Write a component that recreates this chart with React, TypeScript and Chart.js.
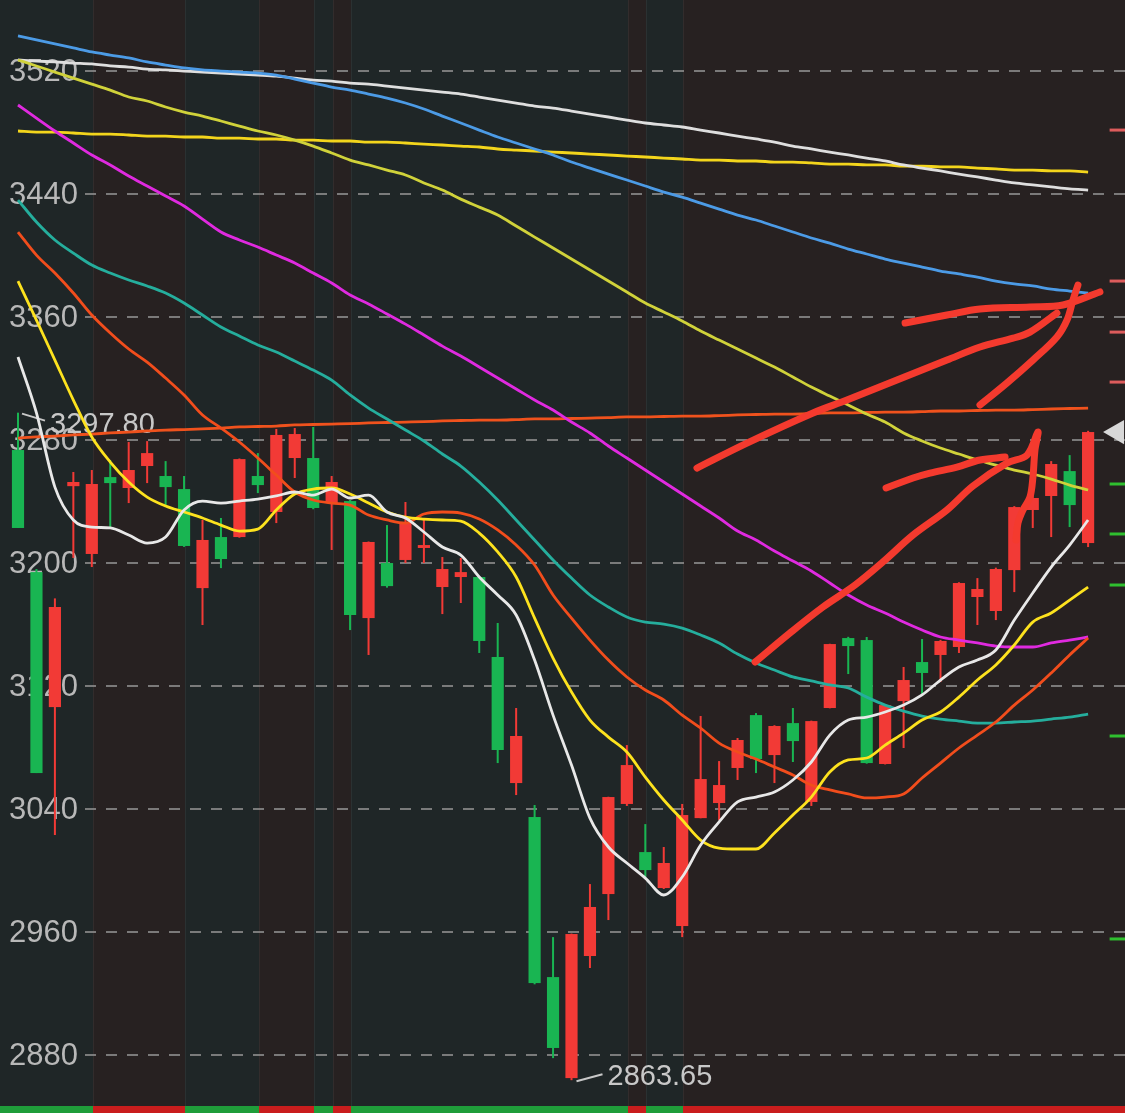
import React, { useEffect, useRef } from 'react';
import { Chart, registerables } from 'chart.js';

Chart.register(...registerables);

// ---------- candle data (one entry per trading day) ----------
const opens = [3273.5, 3194.1, 3106.3, 3250.0, 3205.9, 3255.9, 3248.8, 3263.1, 3256.6, 3248.1,
  3183.7, 3216.9, 3216.9, 3256.6, 3233.2, 3268.3, 3268.3, 3239.0, 3240.3, 3164.2,
  3200.0, 3202.0, 3209.8, 3184.4, 3190.9, 3190.9, 3138.9, 3056.9, 3034.8, 2930.7,
  2865.0, 2944.4, 2984.7, 3043.3, 3012.0, 2988.6, 2963.9, 3034.1, 3043.9, 3066.7,
  3101.1, 3075.1, 3095.9, 3044.6, 3105.7, 3151.2, 3149.9, 3069.3, 3110.2, 3135.6,
  3140.2, 3145.4, 3177.9, 3168.8, 3195.4, 3234.5, 3243.6, 3259.8, 3213.0];
const highs = [3297.8, 3196.1, 3177.0, 3259.2, 3260.5, 3267.0, 3278.7, 3279.3, 3266.3, 3256.6,
  3228.0, 3229.3, 3268.0, 3271.5, 3287.2, 3287.8, 3288.5, 3256.6, 3241.0, 3214.0,
  3224.7, 3239.7, 3229.3, 3203.9, 3203.3, 3191.5, 3161.0, 3105.7, 3042.6, 2956.7,
  2959.0, 2991.2, 3048.0, 3081.6, 3030.2, 3015.3, 3043.3, 3100.5, 3071.2, 3086.2,
  3102.4, 3094.5, 3105.7, 3097.5, 3147.5, 3152.0, 3151.9, 3108.0, 3132.4, 3150.6,
  3150.0, 3187.5, 3190.2, 3197.0, 3237.0, 3250.0, 3266.3, 3270.2, 3286.0];
const lows = [3222.8, 3063.4, 3023.1, 3203.3, 3197.4, 3223.4, 3239.0, 3252.0, 3236.4, 3210.5,
  3159.7, 3196.7, 3216.5, 3245.5, 3226.0, 3255.3, 3235.0, 3208.5, 3156.4, 3140.2,
  3184.0, 3200.0, 3200.0, 3166.8, 3174.0, 3141.5, 3069.9, 3049.1, 2926.0, 2878.0,
  2863.65, 2936.6, 2967.8, 3042.0, 2995.8, 2988.0, 2956.7, 3034.0, 3032.8, 3058.9,
  3063.4, 3056.9, 3070.6, 3042.0, 3105.5, 3127.8, 3069.5, 3069.0, 3079.7, 3114.8,
  3122.6, 3141.5, 3159.7, 3162.9, 3181.1, 3222.8, 3216.9, 3223.4, 3210.4];
const closes = [3222.8, 3063.4, 3171.4, 3252.7, 3251.4, 3252.0, 3260.5, 3271.5, 3249.4, 3211.1,
  3215.0, 3202.6, 3267.6, 3250.7, 3283.3, 3283.9, 3235.8, 3252.7, 3166.2, 3213.7,
  3185.0, 3226.7, 3211.7, 3196.1, 3194.1, 3149.3, 3078.4, 3087.5, 2926.8, 2884.6,
  2958.7, 2976.3, 3047.8, 3068.6, 3000.3, 3004.9, 3036.1, 3059.5, 3055.6, 3084.9,
  3072.5, 3094.0, 3084.2, 3097.2, 3147.3, 3146.0, 3069.9, 3107.6, 3123.9, 3128.5,
  3149.3, 3187.0, 3183.1, 3196.1, 3236.4, 3242.3, 3264.4, 3237.7, 3285.2];

// ---------- moving averages ----------
const ma5 = [3334.0, 3297.6, 3249.4, 3228.0, 3223.4, 3222.8, 3218.2, 3213.0, 3216.9, 3234.5,
  3240.3, 3239.0, 3240.3, 3241.6, 3243.6, 3246.2, 3244.2, 3248.1, 3242.3, 3244.2,
  3233.2, 3229.3, 3220.2, 3210.4, 3205.2, 3190.9, 3179.2, 3166.2, 3136.9, 3101.1,
  3068.6, 3034.1, 3015.3, 3004.9, 2995.1, 2984.1, 2995.8, 3016.6, 3031.6, 3044.6,
  3047.8, 3051.1, 3058.9, 3070.6, 3088.1, 3097.9, 3099.8, 3103.1, 3107.6, 3114.2,
  3123.9, 3132.4, 3136.9, 3143.4, 3162.9, 3180.5, 3197.4, 3211.7, 3228.0];
const ma10 = [3383.4, 3358.0, 3332.0, 3306.0, 3282.0, 3265.7, 3252.7, 3242.9, 3237.1, 3233.2,
  3229.3, 3224.7, 3220.8, 3222.1, 3234.5, 3244.9, 3248.1, 3248.8, 3244.9, 3239.0,
  3233.2, 3229.9, 3228.6, 3228.0, 3227.3, 3219.5, 3207.2, 3190.9, 3164.2, 3138.2,
  3116.1, 3097.9, 3086.8, 3077.1, 3060.8, 3045.9, 3032.9, 3019.8, 3014.6, 3014.0,
  3014.0, 3024.4, 3036.1, 3047.8, 3064.1, 3071.9, 3073.2, 3081.6, 3089.4, 3097.9,
  3103.1, 3112.8, 3123.9, 3133.7, 3146.7, 3161.6, 3167.5, 3175.9, 3184.4];
const ma20 = [3415.3, 3400.3, 3388.6, 3375.6, 3361.3, 3349.6, 3339.2, 3330.7, 3320.3, 3309.3,
  3296.3, 3287.8, 3278.7, 3268.3, 3257.2, 3246.2, 3241.0, 3239.0, 3237.7, 3231.2,
  3228.0, 3226.0, 3231.9, 3233.2, 3232.5, 3228.6, 3221.5, 3211.7, 3198.7, 3179.2,
  3164.2, 3149.9, 3136.9, 3125.9, 3117.4, 3110.9, 3101.1, 3092.7, 3082.9, 3077.1,
  3072.5, 3067.3, 3062.1, 3055.6, 3052.4, 3049.8, 3047.2, 3047.8, 3049.8, 3060.2,
  3069.9, 3079.7, 3088.1, 3096.6, 3107.6, 3117.4, 3128.5, 3140.2, 3151.2];
const ma30 = [3436.1, 3421.8, 3410.1, 3401.6, 3393.8, 3388.6, 3384.1, 3380.2, 3375.6, 3369.1,
  3361.3, 3353.5, 3347.6, 3341.8, 3337.2, 3331.4, 3325.5, 3319.0, 3309.3, 3300.8,
  3293.7, 3286.5, 3279.4, 3270.9, 3263.1, 3252.7, 3241.0, 3228.0, 3215.0, 3202.0,
  3190.2, 3179.2, 3171.4, 3164.9, 3161.6, 3160.3, 3157.7, 3153.2, 3148.0, 3140.8,
  3135.0, 3130.4, 3125.9, 3123.3, 3120.7, 3118.7, 3112.8, 3107.6, 3103.7, 3100.5,
  3098.5, 3097.2, 3095.9, 3095.9, 3096.6, 3097.2, 3098.5, 3099.8, 3101.8];
const ma60 = [3497.9, 3489.4, 3481.0, 3473.2, 3465.4, 3458.9, 3451.7, 3445.2, 3438.7, 3432.2,
  3423.7, 3415.3, 3410.1, 3405.5, 3400.3, 3395.1, 3388.6, 3382.1, 3374.3, 3368.5,
  3362.0, 3355.4, 3348.3, 3341.1, 3334.6, 3327.5, 3320.3, 3313.2, 3306.0, 3299.5,
  3291.7, 3284.6, 3276.1, 3268.3, 3260.5, 3252.7, 3244.9, 3237.1, 3229.3, 3220.8,
  3215.0, 3207.8, 3201.3, 3194.8, 3187.0, 3179.2, 3172.7, 3167.5, 3161.6, 3156.4,
  3151.9, 3149.9, 3148.0, 3146.0, 3145.4, 3145.4, 3148.0, 3149.9, 3151.9];
const ma120 = [3527.2, 3523.3, 3519.3, 3515.4, 3511.5, 3507.6, 3503.1, 3500.5, 3496.6, 3493.3,
  3490.7, 3487.5, 3484.2, 3481.0, 3478.4, 3475.1, 3471.2, 3466.7, 3462.1, 3458.9,
  3455.6, 3452.4, 3447.2, 3442.6, 3436.7, 3431.5, 3426.3, 3419.2, 3412.0, 3404.9,
  3397.7, 3390.6, 3383.4, 3376.3, 3369.1, 3363.3, 3357.4, 3350.9, 3345.0, 3339.2,
  3333.3, 3327.5, 3321.0, 3314.5, 3308.6, 3302.8, 3296.9, 3291.7, 3284.6, 3279.4,
  3274.8, 3270.9, 3267.0, 3263.7, 3260.5, 3257.9, 3254.6, 3250.7, 3247.5];
const maBlue = [3542.8, 3540.2, 3537.6, 3535.0, 3532.4, 3530.4, 3528.5, 3525.9, 3523.9, 3522.0,
  3520.7, 3520.0, 3519.3, 3518.7, 3517.4, 3514.8, 3512.2, 3509.6, 3507.6, 3505.0,
  3502.4, 3499.2, 3495.3, 3490.7, 3486.2, 3481.6, 3477.1, 3473.2, 3469.3, 3465.4,
  3460.8, 3456.9, 3453.0, 3449.1, 3445.2, 3441.3, 3438.0, 3434.1, 3430.2, 3426.3,
  3423.1, 3419.2, 3415.3, 3411.4, 3408.1, 3404.2, 3401.0, 3397.7, 3395.1, 3392.5,
  3389.9, 3388.0, 3386.0, 3383.4, 3381.5, 3380.2, 3378.2, 3376.9, 3375.6];
const maWhiteLong = [3527.2, 3526.5, 3525.9, 3525.2, 3524.6, 3523.3, 3522.6, 3521.3, 3520.7, 3520.0,
  3519.3, 3518.7, 3518.0, 3517.4, 3516.7, 3515.4, 3514.1, 3513.5, 3512.2, 3511.5,
  3510.2, 3508.9, 3507.6, 3506.3, 3505.0, 3503.1, 3501.1, 3499.2, 3497.2, 3495.9,
  3494.0, 3492.0, 3490.1, 3488.1, 3486.2, 3484.9, 3483.6, 3481.6, 3479.7, 3477.7,
  3475.8, 3473.8, 3471.2, 3469.3, 3467.3, 3465.4, 3463.4, 3461.5, 3458.9, 3456.9,
  3455.0, 3453.0, 3451.1, 3449.1, 3447.2, 3445.9, 3444.6, 3443.3, 3442.6];
const maYellowLong = [3481.0, 3480.3, 3480.3, 3479.7, 3479.0, 3479.0, 3478.4, 3477.7, 3477.7, 3477.1,
  3477.1, 3476.4, 3476.4, 3475.8, 3475.8, 3475.1, 3475.1, 3474.5, 3474.5, 3473.8,
  3473.8, 3473.2, 3472.5, 3471.9, 3471.2, 3470.6, 3469.3, 3468.6, 3468.0, 3467.3,
  3466.7, 3466.0, 3465.4, 3464.7, 3464.1, 3463.4, 3462.8, 3462.1, 3462.1, 3461.5,
  3461.5, 3460.8, 3460.8, 3460.2, 3459.5, 3459.5, 3458.9, 3458.9, 3458.2, 3458.2,
  3457.6, 3457.6, 3456.9, 3456.3, 3455.6, 3455.6, 3455.0, 3455.0, 3454.3];
const maOrangeLong = [3281.3, 3282.0, 3282.6, 3283.3, 3283.9, 3284.6, 3285.2, 3285.9, 3286.5, 3286.8,
  3287.2, 3287.8, 3288.5, 3288.8, 3289.1, 3289.8, 3290.1, 3290.4, 3290.7, 3291.1,
  3291.4, 3291.7, 3292.0, 3292.4, 3292.7, 3293.0, 3293.0, 3293.3, 3293.7, 3293.7,
  3294.0, 3294.3, 3294.6, 3295.0, 3295.0, 3295.3, 3295.6, 3295.6, 3295.9, 3296.3,
  3296.6, 3296.9, 3296.9, 3297.2, 3297.6, 3297.6, 3297.9, 3298.2, 3298.2, 3298.5,
  3298.9, 3298.9, 3299.2, 3299.5, 3299.5, 3299.8, 3300.2, 3300.5, 3300.8];

// ---------- hand-drawn red strokes: [candle index, price] ----------
const strokeA = [[39.95, 3135.6], [41.84, 3154.5], [43.63, 3171.4], [45.37, 3185.7], [46.88, 3200.7],
  [48.51, 3218.2], [50.35, 3234.5], [51.76, 3250.1], [53.6, 3265.0], [54.69, 3270.2], [55.28, 3285.2],
  [55.12, 3273.5], [55.01, 3255.9], [54.85, 3242.9], [54.47, 3234.5], [54.2, 3226.0], [54.09, 3215.0]];
const strokeB = [[47.05, 3248.8], [48.51, 3255.3], [49.43, 3258.5], [50.89, 3262.4], [52.14, 3267.0], [53.5, 3268.9]];
const strokeC = [[36.8, 3261.8], [39.51, 3278.0], [43.09, 3297.6], [44.93, 3306.0], [47.64, 3319.0],
  [50.35, 3332.0], [52.14, 3340.5], [53.93, 3346.3], [54.85, 3350.2], [56.31, 3362.6]];
const strokeD = [[48.08, 3356.1], [50.35, 3361.3], [52.14, 3365.2], [54.85, 3366.5], [56.64, 3367.8], [58.64, 3376.3]];
const strokeE = [[52.14, 3302.8], [53.6, 3317.1], [55.01, 3332.0], [56.31, 3347.0], [56.86, 3358.1], [57.18, 3371.1], [57.45, 3380.8]];

// ---------- right-edge order levels ----------
const askLevels = [3481.6, 3383.4, 3350.2, 3317.7];
const bidLevels = [3251.4, 3218.9, 3185.7, 3087.5, 2955.5];

// ---------- axis ticks and sessions ----------
const yTicks = [2880, 2960, 3040, 3120, 3200, 3280, 3360, 3440, 3520];
const sessionStarts = [0, 4, 9, 13, 16, 17, 18, 33, 34, 36];
const sessionKinds = ['g', 'r', 'g', 'r', 'g', 'r', 'g', 'r', 'g', 'r'];

// ---------- layout / style constants ----------
const W = 1125;
const H = 1113;
const X_MIN = -0.9756;
const X_MAX = 60.0;
const Y_MIN = 2842.3;
const Y_MAX = 3566.2;
const LEVEL_X = 59.6;
const MARKER_X = 59.57;
const FONT = '"Liberation Sans", Arial, Helvetica, sans-serif';
const BG_TEAL = '#1f2627';
const BG_BROWN = '#272121';
const STRIP_GREEN = '#1f9d3a';
const STRIP_RED = '#c91d1d';
const UP = '#f23a36';
const DOWN = '#19b552';
const LW = 2.8;

const pts = (arr: number[]) => arr.map((v, i) => ({ x: i, y: v }));
const sPts = (arr: number[][]) => arr.map(([x, y]) => ({ x, y }));

const klinePlugin = {
  id: 'kline',
  beforeDraw(chart: any) {
    const { ctx } = chart;
    const x = chart.scales.x;
    const w = chart.width;
    const h = chart.height;
    ctx.save();
    for (let k = 0; k < sessionStarts.length; k++) {
      const x0 = k === 0 ? 0 : Math.round(x.getPixelForValue(sessionStarts[k])) + 1;
      const x1 = k === sessionStarts.length - 1 ? w : Math.round(x.getPixelForValue(sessionStarts[k + 1])) + 1;
      ctx.fillStyle = sessionKinds[k] === 'g' ? BG_TEAL : BG_BROWN;
      ctx.fillRect(x0, 0, x1 - x0, h);
      ctx.fillStyle = sessionKinds[k] === 'g' ? STRIP_GREEN : STRIP_RED;
      ctx.fillRect(x0, h - 7, x1 - x0, 7);
      if (k > 0) {
        ctx.fillStyle = 'rgba(255,255,255,0.05)';
        ctx.fillRect(x0, 0, 1, h - 7);
      }
    }
    ctx.restore();
  },
  beforeDatasetsDraw(chart: any) {
    const { ctx } = chart;
    const x = chart.scales.x;
    const y = chart.scales.y;
    const w = chart.width;
    ctx.save();
    // dashed grid
    ctx.strokeStyle = 'rgba(145,145,145,0.8)';
    ctx.lineWidth = 2;
    ctx.setLineDash([11, 10]);
    yTicks.forEach((v) => {
      const py = Math.round(y.getPixelForValue(v));
      ctx.beginPath();
      ctx.moveTo(85, py);
      ctx.lineTo(w, py);
      ctx.stroke();
    });
    ctx.setLineDash([]);
    // tick labels
    ctx.fillStyle = '#b8b8b8';
    ctx.font = '31px ' + FONT;
    ctx.textAlign = 'left';
    ctx.textBaseline = 'middle';
    yTicks.forEach((v) => {
      const py = y.getPixelForValue(v);
      ctx.fillText(String(v), 9, py + 1);
    });
    // candles
    const step = x.getPixelForValue(1) - x.getPixelForValue(0);
    const bw = step * 0.66;
    for (let i = 0; i < opens.length; i++) {
      const up = closes[i] >= opens[i];
      const px = x.getPixelForValue(i);
      ctx.fillStyle = up ? UP : DOWN;
      const yh = y.getPixelForValue(highs[i]);
      const yl = y.getPixelForValue(lows[i]);
      ctx.fillRect(px - 1, yh, 2, yl - yh);
      const yt = y.getPixelForValue(Math.max(opens[i], closes[i]));
      const yb = y.getPixelForValue(Math.min(opens[i], closes[i]));
      ctx.fillRect(px - bw / 2, yt, bw, Math.max(2.5, yb - yt));
    }
    // extreme labels
    let hi = 0;
    let lo = 0;
    for (let i = 1; i < highs.length; i++) {
      if (highs[i] > highs[hi]) hi = i;
      if (lows[i] < lows[lo]) lo = i;
    }
    ctx.strokeStyle = '#c8c8c8';
    ctx.fillStyle = '#c8c8c8';
    ctx.lineWidth = 2;
    ctx.font = '29px ' + FONT;
    const hx = x.getPixelForValue(hi);
    const hy = y.getPixelForValue(highs[hi]);
    ctx.beginPath();
    ctx.moveTo(hx + 4, hy + 1);
    ctx.lineTo(hx + 27, hy + 8);
    ctx.stroke();
    ctx.fillText(highs[hi].toFixed(2), hx + 32, hy + 12);
    const lx = x.getPixelForValue(lo);
    const ly = y.getPixelForValue(lows[lo]);
    ctx.beginPath();
    ctx.moveTo(lx + 5, ly + 1);
    ctx.lineTo(lx + 31, ly - 6);
    ctx.stroke();
    ctx.fillText(lows[lo].toFixed(2), lx + 36, ly - 3);
    ctx.restore();
  },
};

const maLine = (data: number[], color: string, width: number, order: number) => ({
  type: 'line',
  data: pts(data),
  borderColor: color,
  borderWidth: width,
  pointRadius: 0,
  cubicInterpolationMode: 'monotone',
  fill: false,
  order,
});

const stroke = (data: number[][]) => ({
  type: 'line',
  data: sPts(data),
  borderColor: '#f43a2e',
  borderWidth: 7,
  borderCapStyle: 'round',
  borderJoinStyle: 'round',
  tension: 0.35,
  pointRadius: 0,
  fill: false,
  order: 0,
});

export default function App() {
  const ref = useRef<HTMLCanvasElement | null>(null);
  useEffect(() => {
    if (!ref.current) return;
    const chart = new Chart(ref.current, {
      type: 'line',
      data: {
        datasets: [
          stroke(strokeA),
          stroke(strokeB),
          stroke(strokeC),
          stroke(strokeD),
          stroke(strokeE),
          {
            type: 'line',
            data: askLevels.map((v) => ({ x: LEVEL_X, y: v })),
            showLine: false,
            pointStyle: 'line',
            pointRadius: 8,
            pointBorderWidth: 3,
            pointBorderColor: '#dd5c5c',
            order: 0,
          },
          {
            type: 'line',
            data: bidLevels.map((v) => ({ x: LEVEL_X, y: v })),
            showLine: false,
            pointStyle: 'line',
            pointRadius: 8,
            pointBorderWidth: 3,
            pointBorderColor: '#2fbf2f',
            order: 0,
          },
          {
            type: 'line',
            data: [{ x: MARKER_X, y: closes[closes.length - 1] }],
            showLine: false,
            pointStyle: 'triangle',
            rotation: -90,
            pointRadius: 14,
            pointBackgroundColor: '#d8d8d8',
            pointBorderWidth: 0,
            order: 0,
          },
          maLine(ma5, '#e8e8e8', LW, 1),
          maLine(ma10, '#fde21e', LW, 2),
          maLine(ma20, '#f24d1c', LW, 3),
          maLine(ma30, '#25ae9d', LW, 4),
          maLine(ma60, '#e02ae0', LW, 5),
          maLine(ma120, '#d0d23a', LW, 6),
          maLine(maBlue, '#4c9be6', LW, 7),
          maLine(maWhiteLong, '#dedede', LW, 8),
          maLine(maYellowLong, '#f3d51c', LW, 9),
          maLine(maOrangeLong, '#f0521d', LW, 10),
        ] as any,
      },
      options: {
        animation: false,
        responsive: false,
        maintainAspectRatio: false,
        events: [],
        layout: { padding: 0, autoPadding: false },
        plugins: { legend: { display: false }, tooltip: { enabled: false } },
        scales: {
          x: { type: 'linear', display: false, min: X_MIN, max: X_MAX },
          y: { type: 'linear', display: false, min: Y_MIN, max: Y_MAX },
        },
      } as any,
      plugins: [klinePlugin],
    });
    return () => chart.destroy();
  }, []);
  return (
    <div style={{ position: 'fixed', left: 0, top: 0, width: W, height: H, background: BG_BROWN }}>
      <canvas ref={ref} width={W} height={H} style={{ width: W, height: H, display: 'block' }} />
    </div>
  );
}
